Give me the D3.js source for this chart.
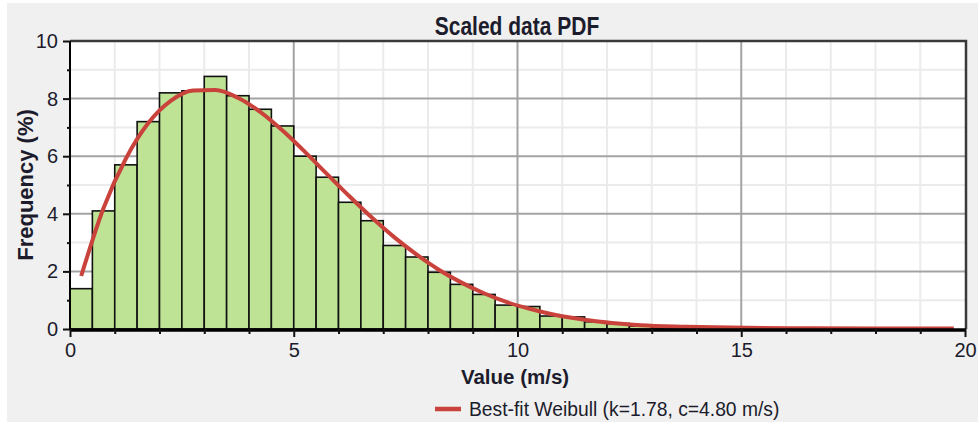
<!DOCTYPE html>
<html>
<head>
<meta charset="utf-8">
<script src="https://cdn.jsdelivr.net/npm/d3@7"></script>
<style>
  body { margin: 0; background: #ffffff; }
  svg text { font-family: "Liberation Sans", Arial, sans-serif; fill: #1c1c2c; }
</style>
</head>
<body>
<div id="chart"></div>
<script>
// histogram bins (lower edge, m/s) and frequency (%)
const binLow = [0, 0.5, 1, 1.5, 2, 2.5, 3, 3.5, 4, 4.5, 5, 5.5, 6, 6.5, 7, 7.5, 8, 8.5, 9, 9.5,
                10, 10.5, 11, 11.5, 12, 12.5, 13, 13.5];
const binFreq = [1.4, 4.1, 5.7, 7.2, 8.2, 8.27, 8.77, 8.1, 7.63, 7.05, 6.0, 5.27, 4.4, 3.76, 2.9, 2.5,
                 1.97, 1.55, 1.2, 0.83, 0.78, 0.45, 0.42, 0.25, 0.19, 0.1, 0.05, 0.03];
const binWidth = 0.5;

// best-fit curve
const fitX = [0.25, 0.75, 1.25, 1.75, 2.25, 2.75, 3.25, 3.75, 4.25, 4.75, 5.25, 5.75, 6.25, 6.75,
              7.25, 7.75, 8.25, 8.75, 9.25, 9.75, 10.25, 10.75, 11.25, 11.75, 12.25, 12.75,
              13.75, 14.75, 16, 18, 19.75];
const fitY = [1.84, 4.2, 5.92, 7.15, 7.92, 8.28, 8.3, 8.03, 7.54, 6.89, 6.15, 5.37, 4.6, 3.86,
              3.18, 2.58, 2.05, 1.61, 1.24, 0.94, 0.71, 0.52, 0.38, 0.27, 0.19, 0.13,
              0.08, 0.05, 0.03, 0.02, 0.02];

const xMajor = [0, 5, 10, 15, 20];
const xMinor = [1, 2, 3, 4, 6, 7, 8, 9, 11, 12, 13, 14, 16, 17, 18, 19];
const yMajor = [0, 2, 4, 6, 8, 10];
const yMinor = [1, 3, 5, 7, 9];

const titleText = "Scaled data PDF";
const xTitle = "Value (m/s)";
const yTitle = "Frequency (%)";
const legendText = "Best-fit Weibull (k=1.78, c=4.80 m/s)";

const W = 978, H = 427;
const margin = { top: 41, right: 12, bottom: 98, left: 70 };
const width = W - margin.left - margin.right,
      height = H - margin.top - margin.bottom;

const barColor = "#bee394";
const fitColor = "#c9423b";

const svg = d3.select("#chart").append("svg")
    .attr("width", W)
    .attr("height", H);

// grey panel
svg.append("rect")
    .attr("x", 7).attr("y", 3)
    .attr("width", W - 7).attr("height", 419)
    .attr("fill", "#f0f0f0");

const g = svg.append("g")
    .attr("transform", `translate(${margin.left}, ${margin.top})`);

const x = d3.scaleLinear().domain([0, 20]).range([0, width - 1]);
const y = d3.scaleLinear().domain([0, 10]).range([height, 0]);

// plot background
g.append("rect")
    .attr("width", width).attr("height", height)
    .attr("fill", "#ffffff");

// minor grid
g.selectAll(".xminor").data(xMinor).enter().append("line")
    .attr("x1", d => x(d)).attr("x2", d => x(d))
    .attr("y1", 0).attr("y2", height)
    .attr("stroke", "#ebebeb").attr("stroke-width", 2);
g.selectAll(".yminor").data(yMinor).enter().append("line")
    .attr("x1", 0).attr("x2", width)
    .attr("y1", d => y(d)).attr("y2", d => y(d))
    .attr("stroke", "#ebebeb").attr("stroke-width", 2);

// major grid
g.selectAll(".xmajor").data(xMajor.slice(1, -1)).enter().append("line")
    .attr("x1", d => x(d)).attr("x2", d => x(d))
    .attr("y1", 0).attr("y2", height)
    .attr("stroke", "#a3a3a3").attr("stroke-width", 2);
g.selectAll(".ymajor").data(yMajor.slice(1, -1)).enter().append("line")
    .attr("x1", 0).attr("x2", width)
    .attr("y1", d => y(d)).attr("y2", d => y(d))
    .attr("stroke", "#a3a3a3").attr("stroke-width", 2);

// bars
g.selectAll(".bar")
    .data(binLow)
    .enter().append("rect")
    .attr("class", "bar")
    .attr("x", d => x(d))
    .attr("width", (d) => x(d + binWidth) - x(d))
    .attr("y", (d, i) => y(binFreq[i]))
    .attr("height", (d, i) => y(0) - y(binFreq[i]))
    .attr("fill", barColor)
    .attr("stroke", "#111")
    .attr("stroke-width", 1.6);

// frame: top and right
g.append("path")
    .attr("d", `M0,0H${width}V${height}`)
    .attr("fill", "none")
    .attr("stroke", "#3a3a3a")
    .attr("stroke-width", 2.5);

// best-fit curve
const line = d3.line()
    .x(d => x(d[0]))
    .y(d => y(d[1]))
    .curve(d3.curveMonotoneX);
g.append("path")
    .datum(fitX.map((v, i) => [v, fitY[i]]))
    .attr("d", line)
    .attr("fill", "none")
    .attr("stroke", fitColor)
    .attr("stroke-width", 4);

// axes
const xAxis = g.append("g")
    .attr("transform", `translate(0, ${height})`)
    .call(d3.axisBottom(x).tickValues(xMajor).tickSize(8).tickPadding(6).tickFormat(d3.format("d")));
g.append("g")
    .attr("transform", `translate(0, ${height})`)
    .call(d3.axisBottom(x).tickValues(xMinor).tickSize(5).tickFormat(""))
    .select(".domain").remove();

const yAxis = g.append("g")
    .call(d3.axisLeft(y).tickValues(yMajor).tickSize(7).tickPadding(5).tickFormat(d3.format("d")));
g.append("g")
    .call(d3.axisLeft(y).tickValues(yMinor).tickSize(3).tickFormat(""))
    .select(".domain").remove();

g.selectAll(".tick line").attr("stroke", "#111").attr("stroke-width", 2);
g.selectAll(".tick text").style("font-size", "20px");
xAxis.select(".domain").attr("stroke", "#000").attr("stroke-width", 3.5).attr("d", `M0,1H${width}`);
yAxis.select(".domain").attr("stroke", "#000").attr("stroke-width", 2).attr("d", `M0,0V${height}`);

// titles (title looks vertically stretched in the original)
svg.append("text")
    .attr("transform", "translate(517, 35) scale(1, 1.2)")
    .attr("text-anchor", "middle")
    .style("font-size", "21px").style("font-weight", "bold")
    .text(titleText);

svg.append("text")
    .attr("x", 515).attr("y", 384)
    .attr("text-anchor", "middle")
    .style("font-size", "20.5px").style("font-weight", "bold")
    .text(xTitle);

svg.append("text")
    .attr("transform", `translate(33, ${margin.top + height / 2}) rotate(-90)`)
    .attr("text-anchor", "middle")
    .style("font-size", "22px").style("font-weight", "bold")
    .text(yTitle);

// legend
const legend = svg.append("g").attr("transform", "translate(435, 409)");
legend.append("line")
    .attr("x1", 0).attr("x2", 26)
    .attr("stroke", fitColor).attr("stroke-width", 4.5);
legend.append("text")
    .attr("x", 34).attr("y", 7)
    .style("font-size", "19.3px")
    .text(legendText);
</script>
</body>
</html>
